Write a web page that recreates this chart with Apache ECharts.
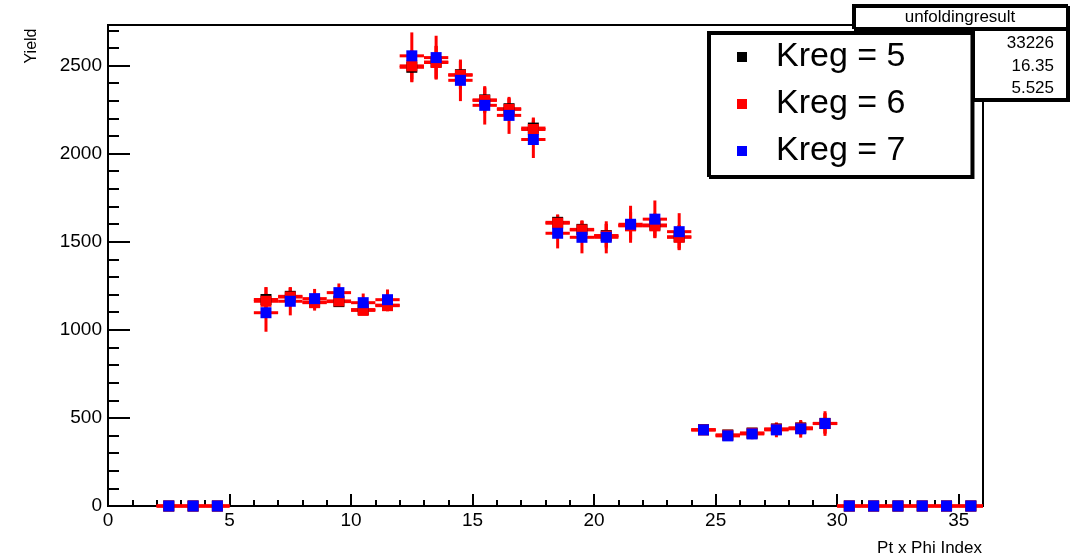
<!DOCTYPE html>
<html>
	<head>
		<meta charset="utf-8" />
		<title>unfoldingresult</title>
		<script src="https://cdn.jsdelivr.net/npm/echarts@6/dist/echarts.min.js"></script>
	</head>
	<body style="margin:0;">
		<div id="chart" style="width: 1078px; height: 559px;"></div>
		<script>
		// bin centres (Pt x Phi Index)
		var binCenters = [2.5, 3.5, 4.5,
			6.5, 7.5, 8.5, 9.5, 10.5, 11.5,
			12.5, 13.5, 14.5, 15.5, 16.5, 17.5,
			18.5, 19.5, 20.5, 21.5, 22.5, 23.5,
			24.5, 25.5, 26.5, 27.5, 28.5, 29.5,
			30.5, 31.5, 32.5, 33.5, 34.5, 35.5];

		var kreg5 = [0, 0, 0,
			1172, 1190, 1158, 1160, 1115, 1140,
			2490, 2520, 2448, 2305, 2255, 2145,
			1610, 1570, 1535, 1592, 1595, 1528,
			433, 403, 414, 437, 443, 469,
			0, 0, 0, 0, 0, 0];
		var kreg5Err = [0, 0, 0,
			70, 50, 40, 30, 25, 30,
			85, 90, 80, 70, 60, 60,
			45, 50, 65, 75, 65, 65,
			20, 18, 25, 35, 40, 55,
			0, 0, 0, 0, 0, 0];

		var kreg6 = [0, 0, 0,
			1162, 1186, 1154, 1164, 1110, 1137,
			2498, 2517, 2445, 2302, 2251, 2137,
			1605, 1567, 1532, 1590, 1590, 1525,
			432, 402, 413, 436, 442, 468,
			0, 0, 0, 0, 0, 0];
		var kreg6Err = [0, 0, 0,
			80, 54, 45, 30, 24, 32,
			90, 95, 81, 73, 62, 63,
			47, 53, 70, 80, 70, 70,
			20, 18, 25, 35, 40, 60,
			0, 0, 0, 0, 0, 0];

		var kreg7 = [0, 0, 0,
			1097, 1162, 1177, 1211, 1154, 1171,
			2555, 2545, 2416, 2274, 2217, 2080,
			1548, 1525, 1525, 1599, 1628, 1557,
			432, 398, 409, 432, 438, 468,
			0, 0, 0, 0, 0, 0];
		var kreg7Err = [0, 0, 0,
			108, 80, 55, 52, 52, 58,
			133, 124, 118, 109, 105, 105,
			86, 91, 91, 105, 106, 105,
			25, 20, 30, 42, 50, 70,
			0, 0, 0, 0, 0, 0];

		var statsTitle = 'unfoldingresult';
		var statsValues = ['33226', '16.35', '5.525'];

		var font = 'Liberation Sans, Arial, Helvetica, sans-serif';

		function points(vals, errs) {
			return binCenters.map(function (x, i) { return [x, vals[i], errs[i]]; });
		}

		function errorSeries(name, vals, errs) {
			return {
				name: name,
				type: 'custom',
				xAxisIndex: 0,
				yAxisIndex: 0,
				data: points(vals, errs),
				renderItem: function (params, api) {
					var x = api.value(0), y = api.value(1), e = api.value(2);
					var l = api.coord([x - 0.5, y]);
					var r = api.coord([x + 0.5, y]);
					var t = api.coord([x, y + e]);
					var b = api.coord([x, y - e]);
					var st = { stroke: '#ff0000', lineWidth: 3 };
					return {
						type: 'group',
						children: [
							{ type: 'line', shape: { x1: l[0], y1: l[1], x2: r[0], y2: r[1] }, style: st },
							{ type: 'line', shape: { x1: t[0], y1: t[1], x2: b[0], y2: b[1] }, style: st }
						]
					};
				}
			};
		}

		function markerSeries(name, vals, errs, color) {
			return {
				name: name,
				type: 'scatter',
				xAxisIndex: 0,
				yAxisIndex: 0,
				symbol: 'rect',
				symbolSize: 11,
				itemStyle: { color: color, opacity: 1 },
				emphasis: { disabled: true },
				data: points(vals, errs)
			};
		}

		var myChart = echarts.init(document.getElementById('chart'));
		var option = {
			animation: false,
			textStyle: { fontFamily: font },
			grid: {
				left: 108, right: 95, top: 25, bottom: 53,
				show: true, borderColor: '#000', borderWidth: 2
			},
			xAxis: [{
				type: 'value', min: 0, max: 36, interval: 5, position: 'bottom',
				axisLine: { lineStyle: { color: '#000', width: 2 } },
				axisTick: { inside: true, length: 12, lineStyle: { color: '#000', width: 2 } },
				axisLabel: { color: '#000', fontSize: 19, margin: 5, showMaxLabel: false },
				splitLine: { show: false }
			}, {
				type: 'value', min: 0, max: 36, interval: 1, position: 'bottom',
				axisLine: { show: false },
				axisTick: { inside: true, length: 6, lineStyle: { color: '#000', width: 2 } },
				axisLabel: { show: false },
				splitLine: { show: false }
			}],
			yAxis: [{
				type: 'value', min: 0, max: 2730, interval: 500, position: 'left',
				axisLine: { show: true, lineStyle: { color: '#000', width: 2 } },
				axisTick: { show: true, inside: true, length: 22, lineStyle: { color: '#000', width: 2 } },
				axisLabel: {
					color: '#000', fontSize: 19, margin: 6, showMaxLabel: false,
					formatter: function (v) { return String(v); }
				},
				splitLine: { show: false }
			}, {
				type: 'value', min: 0, max: 2730, interval: 100, position: 'left',
				axisLine: { show: false },
				axisTick: { show: true, inside: true, length: 11, lineStyle: { color: '#000', width: 2 } },
				axisLabel: { show: false },
				splitLine: { show: false }
			}],
			legend: {
				data: ['Kreg = 5', 'Kreg = 6', 'Kreg = 7'],
				orient: 'vertical',
				left: 708,
				top: 32,
				icon: 'rect',
				itemWidth: 10,
				itemHeight: 10,
				itemGap: 7,
				padding: [5, 66, 5, 29],
				backgroundColor: '#fff',
				borderColor: '#000',
				borderWidth: 2,
				borderRadius: 0,
				shadowColor: '#000',
				shadowBlur: 0,
				shadowOffsetX: 2,
				shadowOffsetY: 2,
				selectedMode: false,
				textStyle: {
					fontFamily: font,
					fontSize: 34,
					lineHeight: 40,
					color: '#000',
					padding: [0, 0, 0, 24]
				}
			},
			graphic: [
				{
					type: 'rect', z: 1,
					shape: { x: 853, y: 5, width: 214, height: 23 },
					style: { fill: '#fff', stroke: '#000', lineWidth: 2, shadowColor: '#000', shadowOffsetX: 2, shadowOffsetY: 2, shadowBlur: 0 }
				},
				{
					type: 'rect', z: 1,
					shape: { x: 972, y: 28, width: 95, height: 71 },
					style: { fill: '#fff', stroke: '#000', lineWidth: 2, shadowColor: '#000', shadowOffsetX: 2, shadowOffsetY: 2, shadowBlur: 0 }
				},
				{
					type: 'text', z: 2, x: 960, y: 17,
					style: { text: statsTitle, font: '17px ' + font, fill: '#000', align: 'center', verticalAlign: 'middle' }
				},
				{
					type: 'text', z: 2, x: 1054, y: 43,
					style: { text: statsValues[0], font: '17px ' + font, fill: '#000', align: 'right', verticalAlign: 'middle' }
				},
				{
					type: 'text', z: 2, x: 1054, y: 66,
					style: { text: statsValues[1], font: '17px ' + font, fill: '#000', align: 'right', verticalAlign: 'middle' }
				},
				{
					type: 'text', z: 2, x: 1054, y: 88,
					style: { text: statsValues[2], font: '17px ' + font, fill: '#000', align: 'right', verticalAlign: 'middle' }
				},
				{
					type: 'text', x: 32, y: 46, rotation: Math.PI / 2,
					style: { text: 'Yield', font: '16px ' + font, fill: '#000', align: 'center', verticalAlign: 'middle' }
				},
				{
					type: 'text', x: 982, y: 548,
					style: { text: 'Pt x Phi Index', font: '17px ' + font, fill: '#000', align: 'right', verticalAlign: 'middle' }
				}
			],
			series: [
				errorSeries('err5', kreg5, kreg5Err),
				markerSeries('Kreg = 5', kreg5, kreg5Err, '#000000'),
				errorSeries('err6', kreg6, kreg6Err),
				markerSeries('Kreg = 6', kreg6, kreg6Err, '#ff0000'),
				errorSeries('err7', kreg7, kreg7Err),
				markerSeries('Kreg = 7', kreg7, kreg7Err, '#0000ff')
			]
		};
		myChart.setOption(option);
		</script>
	</body>
</html>
